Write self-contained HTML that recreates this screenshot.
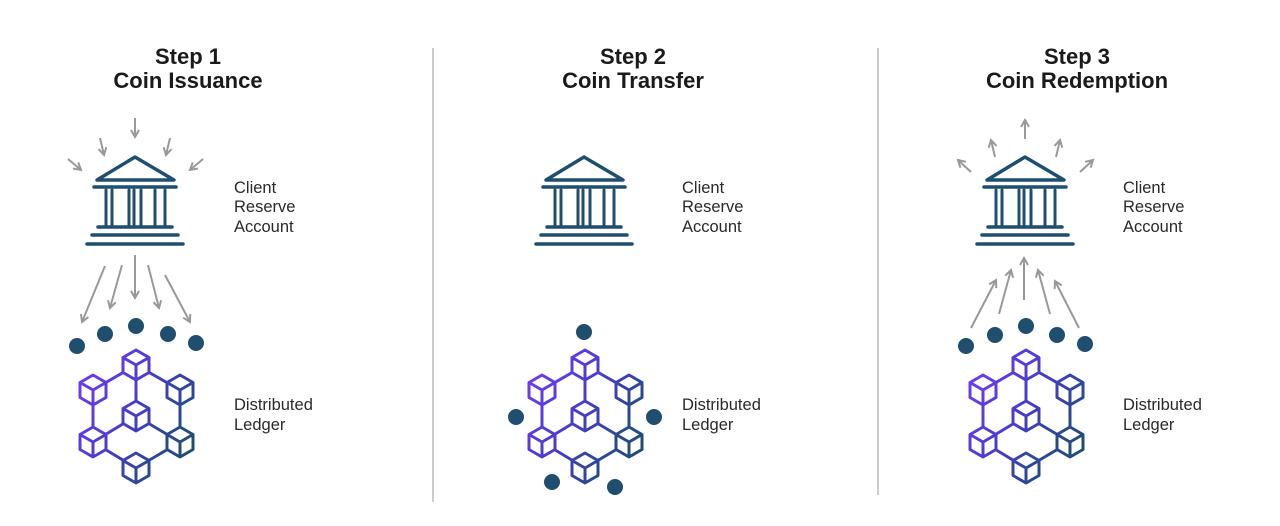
<!DOCTYPE html>
<html><head><style>
body{margin:0;background:#fff;width:1280px;height:526px;overflow:hidden}
svg{display:block}
.t{font-family:"Liberation Sans",sans-serif;font-weight:bold;font-size:22px;fill:#1a1a1a}
.l{font-family:"Liberation Sans",sans-serif;font-size:16.5px;fill:#2a2a2a}
</style></head><body>
<svg width="1280" height="526" viewBox="0 0 1280 526">
<defs>
<linearGradient id="g" x1="80" y1="380" x2="195" y2="450" gradientUnits="userSpaceOnUse">
<stop offset="0" stop-color="#6b3cf2"/><stop offset="0.45" stop-color="#4a3cc8"/><stop offset="0.8" stop-color="#274a8a"/><stop offset="1" stop-color="#1f4e6e"/>
</linearGradient>
<marker id="ah" viewBox="0 0 10 10" refX="8" refY="5" markerWidth="5" markerHeight="5" orient="auto">
<path d="M1,1 L8,5 L1,9" fill="none" stroke="#999" stroke-width="2"/>
</marker>
<g id="bank" stroke="#1f4e6e" fill="none" stroke-linecap="round">
<path d="M97,180 L135,157 L174,180 Z" stroke-width="3.5" stroke-linejoin="round"/>
<line x1="94" y1="187" x2="176" y2="187" stroke-width="3.5"/>
<g stroke-width="3">
<line x1="106" y1="190" x2="106" y2="226"/><line x1="112" y1="190" x2="112" y2="226"/>
<line x1="129" y1="190" x2="129" y2="226"/><line x1="141" y1="190" x2="141" y2="226"/>
<line x1="155" y1="190" x2="155" y2="226"/><line x1="165" y1="190" x2="165" y2="226"/>
<line x1="134" y1="190" x2="134" y2="226"/>
</g>
<line x1="98" y1="227" x2="172" y2="227" stroke-width="3.5"/>
<line x1="92" y1="235" x2="178" y2="235" stroke-width="3.5"/>
<line x1="87" y1="244" x2="183" y2="244" stroke-width="3.5"/>
</g>
<g id="ledger" stroke="url(#g)" stroke-width="3" fill="none" stroke-linejoin="round">
<path d="M136,365 L93,390 M136,365 L180,390 M136,365 L136,416 M93,390 L93,442 M180,390 L180,442 M136,416 L93,442 M136,416 L180,442 M93,442 L136,468 M180,442 L136,468"/>
<path fill="#fff" d="
M136,350 l13,7.5 v15 l-13,7.5 l-13,-7.5 v-15 Z m0,15 l-13,-7.5 m13,7.5 l13,-7.5 m-13,7.5 v15
M93,375 l13,7.5 v15 l-13,7.5 l-13,-7.5 v-15 Z m0,15 l-13,-7.5 m13,7.5 l13,-7.5 m-13,7.5 v15
M180,375 l13,7.5 v15 l-13,7.5 l-13,-7.5 v-15 Z m0,15 l-13,-7.5 m13,7.5 l13,-7.5 m-13,7.5 v15
M136,401 l13,7.5 v15 l-13,7.5 l-13,-7.5 v-15 Z m0,15 l-13,-7.5 m13,7.5 l13,-7.5 m-13,7.5 v15
M93,427 l13,7.5 v15 l-13,7.5 l-13,-7.5 v-15 Z m0,15 l-13,-7.5 m13,7.5 l13,-7.5 m-13,7.5 v15
M180,427 l13,7.5 v15 l-13,7.5 l-13,-7.5 v-15 Z m0,15 l-13,-7.5 m13,7.5 l13,-7.5 m-13,7.5 v15
M136,453 l13,7.5 v15 l-13,7.5 l-13,-7.5 v-15 Z m0,15 l-13,-7.5 m13,7.5 l13,-7.5 m-13,7.5 v15"/>
</g>
</defs>

<line x1="433" y1="48" x2="433" y2="502" stroke="#999" stroke-width="1"/>
<line x1="878" y1="48" x2="878" y2="495" stroke="#999" stroke-width="1"/>

<text class="t" x="188" y="64" text-anchor="middle">Step 1</text>
<text class="t" x="188" y="88" text-anchor="middle">Coin Issuance</text>
<use href="#bank"/>
<g stroke="#999" stroke-width="2" marker-end="url(#ah)">
<line x1="135" y1="118" x2="135" y2="137"/>
<line x1="100" y1="138" x2="104" y2="155"/>
<line x1="170" y1="138" x2="166" y2="155"/>
<line x1="68" y1="159" x2="81" y2="170"/>
<line x1="203" y1="159" x2="190" y2="170"/>
<line x1="105" y1="266" x2="82" y2="322"/>
<line x1="122" y1="265" x2="110" y2="308"/>
<line x1="135" y1="255" x2="135" y2="298"/>
<line x1="148" y1="265" x2="159" y2="308"/>
<line x1="165" y1="275" x2="190" y2="322"/>
</g>
<g fill="#1f4e6e">
<circle cx="77" cy="346" r="8"/><circle cx="105" cy="334" r="8"/><circle cx="136" cy="326" r="8"/><circle cx="168" cy="334" r="8"/><circle cx="196" cy="343" r="8"/>
</g>
<use href="#ledger"/>
<text class="l" x="234" y="193">Client</text>
<text class="l" x="234" y="212">Reserve</text>
<text class="l" x="234" y="232">Account</text>
<text class="l" x="234" y="410">Distributed</text>
<text class="l" x="234" y="430">Ledger</text>

<text class="t" x="633" y="64" text-anchor="middle">Step 2</text>
<text class="t" x="633" y="88" text-anchor="middle">Coin Transfer</text>
<g transform="translate(449,0)">
<use href="#bank"/>
<use href="#ledger"/>
</g>
<g fill="#1f4e6e">
<circle cx="584" cy="332" r="8"/><circle cx="516" cy="417" r="8"/><circle cx="654" cy="417" r="8"/><circle cx="552" cy="482" r="8"/><circle cx="615" cy="487" r="8"/>
</g>
<text class="l" x="682" y="193">Client</text>
<text class="l" x="682" y="212">Reserve</text>
<text class="l" x="682" y="232">Account</text>
<text class="l" x="682" y="410">Distributed</text>
<text class="l" x="682" y="430">Ledger</text>

<text class="t" x="1077" y="64" text-anchor="middle">Step 3</text>
<text class="t" x="1077" y="88" text-anchor="middle">Coin Redemption</text>
<g transform="translate(890,0)">
<use href="#bank"/>
<use href="#ledger"/>
</g>
<g stroke="#999" stroke-width="2" marker-end="url(#ah)">
<line x1="1025" y1="139" x2="1025" y2="120"/>
<line x1="995" y1="157" x2="991" y2="140"/>
<line x1="1056" y1="157" x2="1060" y2="140"/>
<line x1="971" y1="172" x2="958" y2="160"/>
<line x1="1080" y1="172" x2="1093" y2="160"/>
<line x1="971" y1="328" x2="996" y2="280"/>
<line x1="999" y1="314" x2="1011" y2="270"/>
<line x1="1024" y1="300" x2="1024" y2="258"/>
<line x1="1050" y1="314" x2="1038" y2="270"/>
<line x1="1079" y1="328" x2="1055" y2="281"/>
</g>
<g fill="#1f4e6e">
<circle cx="966" cy="346" r="8"/><circle cx="995" cy="335" r="8"/><circle cx="1026" cy="326" r="8"/><circle cx="1057" cy="335" r="8"/><circle cx="1085" cy="344" r="8"/>
</g>
<text class="l" x="1123" y="193">Client</text>
<text class="l" x="1123" y="212">Reserve</text>
<text class="l" x="1123" y="232">Account</text>
<text class="l" x="1123" y="410">Distributed</text>
<text class="l" x="1123" y="430">Ledger</text>
</svg>
</body></html>
